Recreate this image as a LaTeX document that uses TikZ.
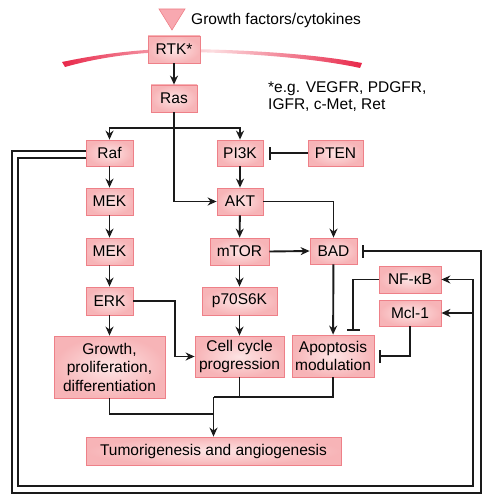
\documentclass[tikz,border=0pt]{standalone}
\usepackage{fontspec}
\setmainfont{Liberation Sans}
\usetikzlibrary{arrows.meta}
\definecolor{boxin}{HTML}{FDE4E4}
\definecolor{boxout}{HTML}{F7B4B7}
\definecolor{boxline}{HTML}{EE8088}
\definecolor{arcred}{HTML}{E8284A}
\definecolor{arcpale}{HTML}{FCDDE0}
\definecolor{trifill}{HTML}{F8A8B0}
\definecolor{linek}{HTML}{1A1A1A}
\tikzset{
  box/.style={draw=boxline, line width=0.8pt, inner color=boxin, outer color=boxout,
    minimum height=27pt, inner sep=2pt, align=center,
    font=\fontsize{15.5}{18.5}\selectfont},
  lbl/.style={inner sep=0pt, align=left, font=\fontsize{15.5}{17}\selectfont},
  ln/.style={draw=linek, line width=1.9pt, line join=miter},
  arr/.style={ln, -{Stealth[length=9pt,width=8pt]}},
  inh/.style={ln, -{Bar[width=13pt,line width=1.9pt]}},
}
\begin{document}
\begin{tikzpicture}[x=1pt,y=-1pt]
\useasboundingbox (0,0) rectangle (491,500);
% membrane arc
\shade[left color=arcred, right color=arcred, middle color=arcpale]
  (62,62) .. controls (100,54) and (140,49) .. (175,49)
  .. controls (230,49) and (310,53) .. (362,63)
  -- (360,68) .. controls (310,57) and (230,52) .. (175,52)
  .. controls (140,52) and (100,57) .. (65,67) -- cycle;
% ligand triangle
\filldraw[fill=trifill, draw=boxline, line width=0.6pt] (159,9) -- (185,9) -- (172,30) -- cycle;
\node[lbl, anchor=west] (gf) at (191,20) {Growth factors/cytokines};
\node[lbl, anchor=west] (note) at (268,96.5) {*e.g. VEGFR, PDGFR,\\IGFR, c-Met, Ret};

% nodes
\node[box, minimum width=52pt] (RTK) at (174,49.5) {RTK*};
\node[box, minimum width=46pt] (Ras) at (174,98.5) {Ras};
\node[box, minimum width=47pt, minimum height=26pt] (Raf) at (109.5,153) {Raf};
\node[box, minimum width=47pt] (MEKa) at (109.5,201.5) {MEK};
\node[box, minimum width=47pt] (MEKb) at (109.5,251.5) {MEK};
\node[box, minimum width=47pt, minimum height=28pt] (ERK) at (109.5,301) {ERK};
\node[box, minimum width=46pt, minimum height=26pt] (PI3K) at (240,153) {PI3K};
\node[box, minimum width=46pt] (AKT) at (240,201.5) {AKT};
\node[box, minimum width=59pt] (mTOR) at (239.5,251.5) {mTOR};
\node[box, minimum width=75pt, minimum height=28pt] (p70) at (239.5,301) {p70S6K};
\node[box, minimum width=55pt, minimum height=26pt] (PTEN) at (335.5,153) {PTEN};
\node[box, minimum width=47pt, minimum height=26pt] (BAD) at (333.5,251) {BAD};
\node[box, minimum width=62pt] (NFkB) at (410,279.5) {NF-κB};
\node[box, minimum width=62pt, minimum height=26pt] (Mcl) at (410,313) {Mcl-1};
\node[box, minimum width=111pt, minimum height=62pt] (Growth) at (109.5,367) {Growth,\\proliferation,\\differentiation};
\node[box, minimum width=89pt, minimum height=41pt] (Cell) at (239.5,356.5) {Cell cycle\\progression};
\node[box, minimum width=82pt, minimum height=42pt] (Apop) at (333,356) {Apoptosis\\modulation};
\node[box, minimum width=255pt, minimum height=28pt] (Tumor) at (213.5,451) {Tumorigenesis and angiogenesis};

% coordinates
\coordinate (split) at (174,128);
\coordinate (m1) at (213.5,397);
\coordinate (m2) at (213.5,414);
\coordinate (OL) at (12,493);
\coordinate (OR) at (481,493);
\coordinate (IL) at (18,486);
\coordinate (IR) at (473,486);

% connectors
\draw[arr] (RTK) -- (Ras);
\draw[ln] (Ras.south) -- (split);
\draw[arr] (split) -| (Raf.north);
\draw[arr] (split) -| (PI3K.north);
\draw[arr] (split) |- (AKT.west);
\draw[arr] (Raf) -- (MEKa);
\draw[arr] (MEKa) -- (MEKb);
\draw[arr] (MEKb) -- (ERK);
\draw[arr] (ERK) -- (Growth);
\draw[arr] (ERK.east) -- ++(42,0) |- (Cell.west);
\draw[arr] (PI3K) -- (AKT);
\draw[arr] (AKT) -- (mTOR);
\draw[arr] (mTOR) -- (p70);
\draw[arr] (p70) -- (Cell);
\draw[inh, shorten >=6pt] (PTEN.west) -- (PI3K.east);
\draw[arr] (AKT.east) -| (BAD.north);
\draw[arr] (mTOR.east) -- (BAD.west);
\draw[arr] (BAD) -- (Apop);
\draw[inh, shorten >=4pt] (NFkB.west) -| ([xshift=20pt]Apop.north);
\draw[inh, shorten >=5pt] (Mcl.south) |- (Apop.east);
\draw[ln] (Cell.south) |- (m1);
\draw[ln] (Apop.south) |- (m1);
\draw[ln] (Growth.south) |- (m2);
\draw[arr] (m1) -- (Tumor.north);
% feedback loops from Raf
\draw[inh, shorten >=5pt] ([yshift=2pt]Raf.west) -| (OL) -- (OR) |- (BAD.east);
\draw[arr] ([yshift=-5pt]Raf.west) -| (IL) -- (IR) |- (NFkB.east);
\draw[arr] (IR) |- (Mcl.east);
\end{tikzpicture}
\end{document}
